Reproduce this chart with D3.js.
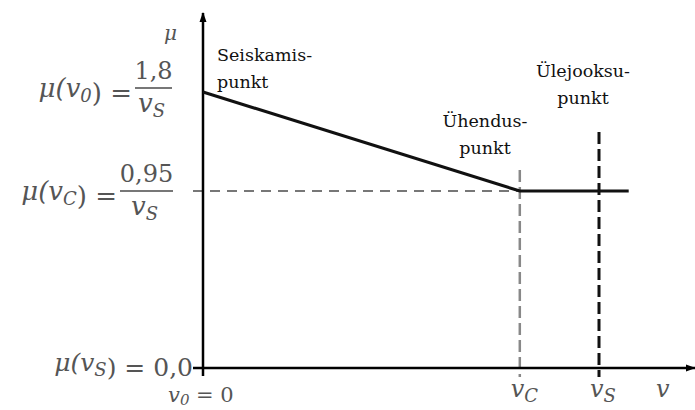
<!DOCTYPE html>
<html>
<head>
<meta charset="utf-8">
<script src="https://cdn.jsdelivr.net/npm/d3@7"></script>
<style>
body { margin: 0; background: #fff; }
</style>
</head>
<body>
<div id="chart"></div>
<script>
// key speeds on the v axis (vS = 1)
var speedNames = ["0", "C", "S"];
var speedValues = [0, 0.8, 1];

// mu curve: start, joint, end of flat part
var curveV = [0, 0.8, 1.075];
var curveMu = [1.8, 0.95, 0.95];

// mu tick labels
var muLevels = [1.8, 0.95, 0.0];
var muText = ["1,8", "0,95", "0,0"];

var width = 695, height = 410;
var serif = "'DejaVu Serif', serif";

var svg = d3.select("#chart").append("svg")
	.attr("width", width)
	.attr("height", height);

var x = d3.scaleLinear().domain([0, 1]).range([203, 599]);
// schematic axis, not linear in the original
var y = d3.scaleLinear().domain([0, 0.95, 1.8]).range([368, 191, 92]);

svg.append("defs").append("marker")
	.attr("id", "arrow")
	.attr("viewBox", "0 0 10 10")
	.attr("refX", 9).attr("refY", 5)
	.attr("markerWidth", 4).attr("markerHeight", 5)
	.attr("markerUnits", "strokeWidth")
	.attr("orient", "auto")
	.append("path")
	.attr("d", "M0,1.5L10,5L0,8.5z")
	.attr("fill", "#000");

// dashed helpers
svg.append("line")
	.attr("x1", x(0) - 10).attr("x2", x(speedValues[1]))
	.attr("y1", y(curveMu[1])).attr("y2", y(curveMu[1]))
	.attr("stroke", "#777").attr("stroke-width", 2.2)
	.attr("stroke-dasharray", "10,7");

svg.append("line")
	.attr("x1", x(speedValues[1])).attr("x2", x(speedValues[1]))
	.attr("y1", 170).attr("y2", y(0) + 9)
	.attr("stroke", "#888").attr("stroke-width", 2.5)
	.attr("stroke-dasharray", "12,5");

svg.append("line")
	.attr("x1", x(speedValues[2])).attr("x2", x(speedValues[2]))
	.attr("y1", 132).attr("y2", y(0) + 9)
	.attr("stroke", "#111").attr("stroke-width", 3)
	.attr("stroke-dasharray", "12,5");

// axes
svg.append("line")
	.attr("x1", x(0)).attr("x2", x(0))
	.attr("y1", y(0) + 8).attr("y2", 13)
	.attr("stroke", "#000").attr("stroke-width", 2.5)
	.attr("marker-end", "url(#arrow)");

svg.append("line")
	.attr("x1", x(0) - 10).attr("x2", 695)
	.attr("y1", y(0)).attr("y2", y(0))
	.attr("stroke", "#000").attr("stroke-width", 2.5)
	.attr("marker-end", "url(#arrow)");

// mu curve
var line = d3.line()
	.x(function (d, i) { return x(curveV[i]); })
	.y(function (d) { return y(d); });

svg.append("path")
	.datum(curveMu)
	.attr("d", line)
	.attr("fill", "none")
	.attr("stroke", "#111")
	.attr("stroke-width", 3);

function mathText(xx, yy, anchor) {
	return svg.append("text")
		.attr("x", xx).attr("y", yy)
		.attr("text-anchor", anchor || "start")
		.attr("font-family", serif)
		.attr("font-size", 26)
		.attr("fill", "#555");
}

function vSub(t, sub) {
	t.append("tspan").attr("font-style", "italic").text("v");
	t.append("tspan").attr("font-style", "italic").attr("font-size", 18).attr("dy", 5).text(sub);
	t.append("tspan").attr("dy", -5).text("");
}

// helper for mu(v_x) text
function muOf(t, sub) {
	t.append("tspan").attr("font-style", "italic").text("\u03bc(");
	vSub(t, sub);
	t.append("tspan").text(") = ");
}

// y labels with fractions
[0, 1].forEach(function (i) {
	var yy = y(muLevels[i]);
	if (i == 0) yy = yy - 4;
	var bx = i == 0 ? 135 : 120, bw = i == 0 ? 37 : 53;
	var t = mathText(bx - 3, yy + 9, "end");
	muOf(t, speedNames[i == 0 ? 0 : 1]);
	svg.append("line")
		.attr("x1", bx).attr("x2", bx + bw)
		.attr("y1", yy).attr("y2", yy)
		.attr("stroke", "#777").attr("stroke-width", 2);
	mathText(bx + bw / 2, yy - 9, "middle").attr("font-size", 24).text(muText[i]);
	var d = mathText(bx + bw / 2 - 2, yy + 24, "middle");
	vSub(d, "S");
});

var t0 = mathText(193, y(muLevels[2]) + 3, "end").attr("font-size", 25);
muOf(t0, "S");
t0.append("tspan").text(muText[2]);

mathText(177, 40, "end")
	.attr("font-style", "italic").attr("font-size", 20)
	.text("\u03bc");

// v labels under the x axis
var v0 = mathText(168, 402).attr("font-size", 21);
v0.append("tspan").attr("font-style", "italic").text("v");
v0.append("tspan").attr("font-style", "italic").attr("font-size", 15).attr("dy", 3).text("0");
v0.append("tspan").attr("dy", -3).text(" = 0");

svg.selectAll(".vlab")
	.data(speedValues.slice(1))
	.enter().append("text")
	.attr("class", "vlab")
	.attr("x", function (d) { return x(d) - 9; })
	.attr("y", 397)
	.attr("font-family", serif)
	.attr("font-size", 24)
	.attr("fill", "#555")
	.each(function (d, i) {
		vSub(d3.select(this), speedNames[i + 1]);
	});

mathText(656, 397).attr("font-size", 24).attr("font-style", "italic").text("v");

// point notes
var notes = [
	{ lines: ["Seiskamis-", "punkt"], x: 217, y: 61, anchor: "start" },
	{ lines: ["Ühendus-", "punkt"], x: 485, y: 127, anchor: "middle" },
	{ lines: ["Ülejooksu-", "punkt"], x: 583, y: 77, anchor: "middle" }
];

notes.forEach(function (n) {
	var t = svg.append("text")
		.attr("x", n.x).attr("y", n.y)
		.attr("text-anchor", n.anchor)
		.attr("font-family", serif)
		.attr("font-size", 17.5)
		.attr("fill", "#111");
	n.lines.forEach(function (l, i) {
		t.append("tspan").attr("x", n.x).attr("dy", i == 0 ? 0 : 27).text(l);
	});
});
</script>
</body>
</html>
